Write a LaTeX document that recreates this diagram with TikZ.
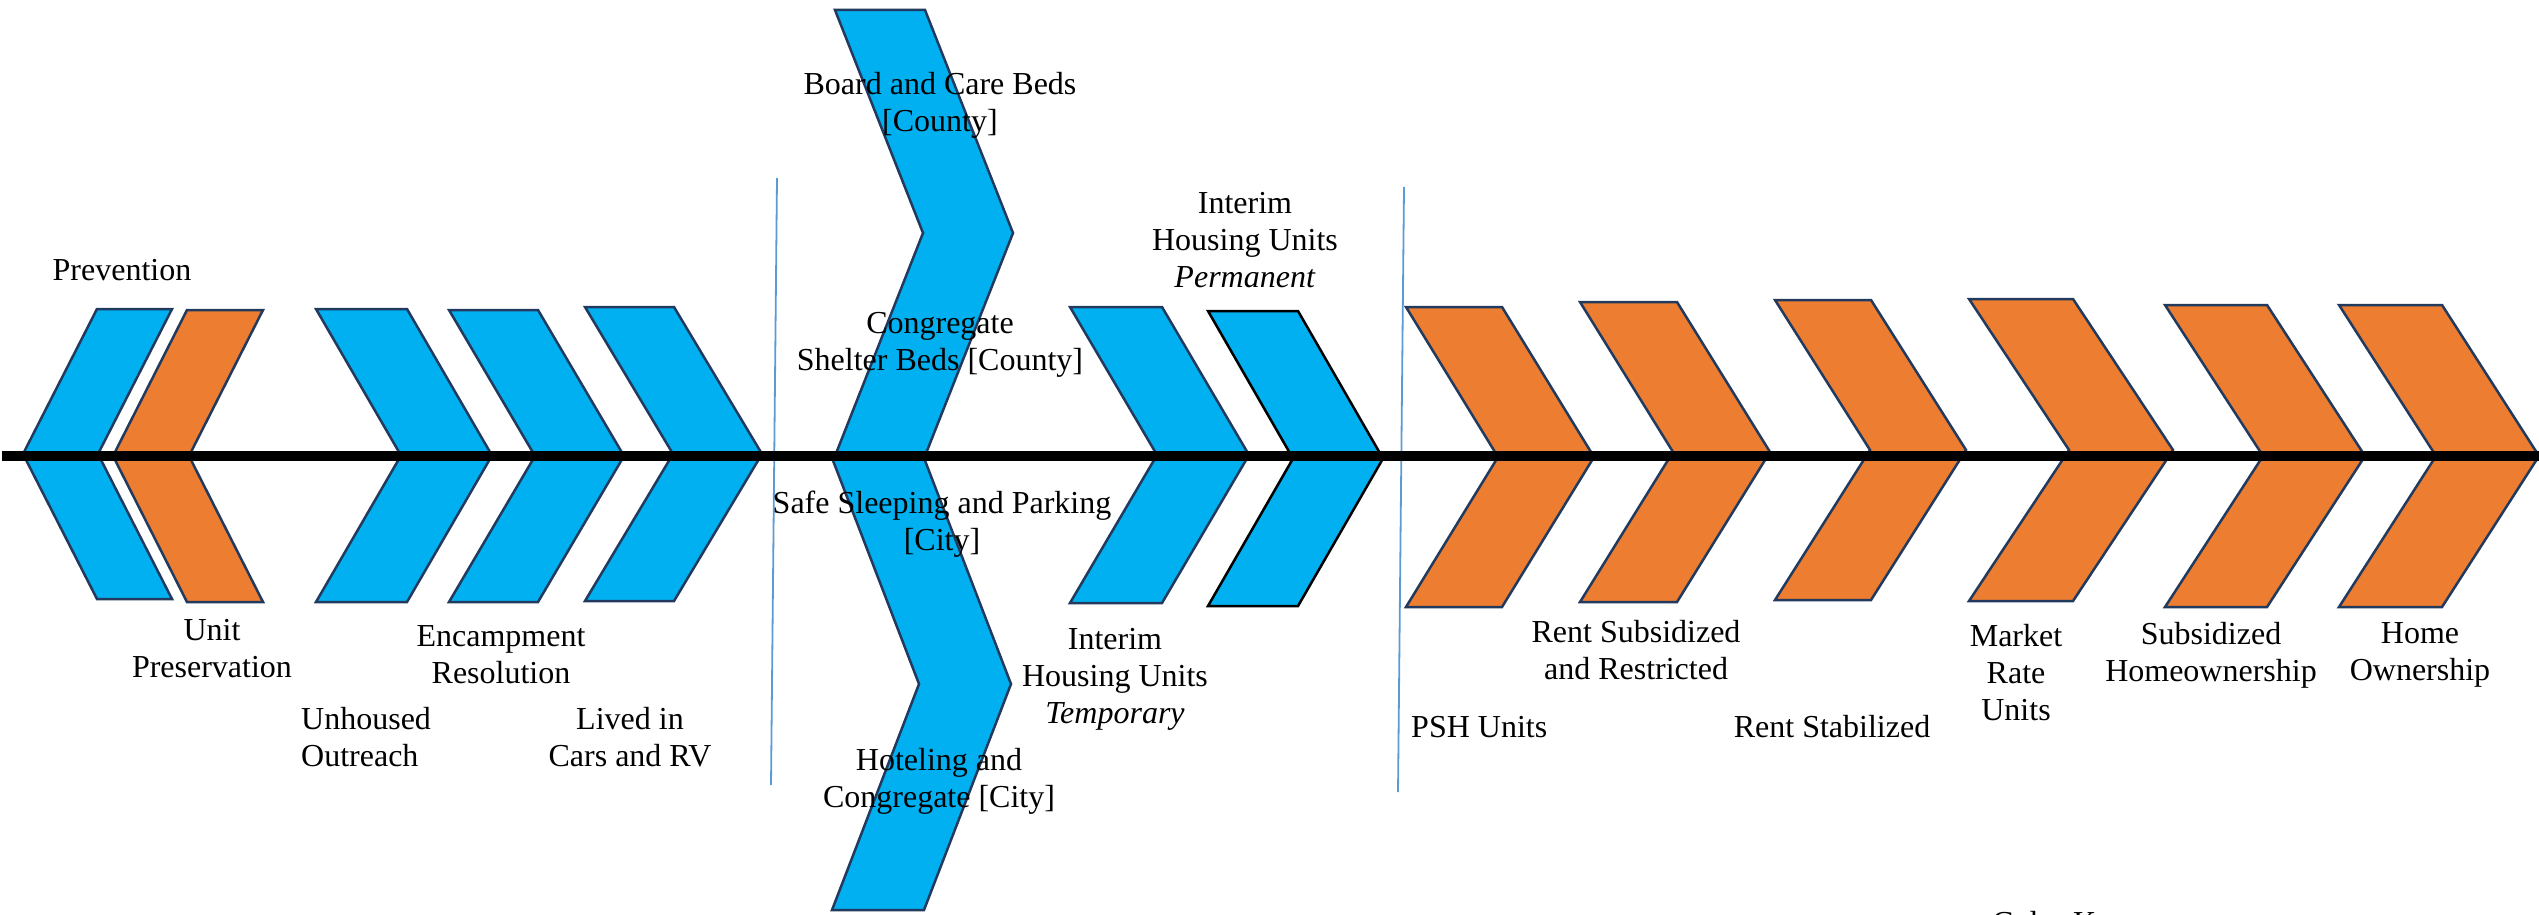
\documentclass[tikz,border=0pt]{standalone}
\usepackage{fontspec}
\setmainfont{Liberation Serif}
\definecolor{chevblue}{HTML}{00B0F0}
\definecolor{chevorange}{HTML}{ED7D31}
\definecolor{chevedge}{HTML}{223A5E}
\definecolor{dividerblue}{HTML}{5B9BD5}
% right-pointing chevron: style, left x, right x, tip x, top y, bottom y
\newcommand\rchevron[6]{\draw[#1] (#2,#5) -- (#3,#5) -- (#4,{(#5+#6)/2}) -- (#3,#6) -- (#2,#6) -- ({#2+#4-#3},{(#5+#6)/2}) -- cycle;}
% left-pointing chevron: style, left x, right x, tip x, top y, bottom y
\newcommand\lchevron[6]{\draw[#1] (#2,#5) -- (#3,#5) -- ({#3-#2+#4},{(#5+#6)/2}) -- (#3,#6) -- (#2,#6) -- (#4,{(#5+#6)/2}) -- cycle;}
\begin{document}
\begin{tikzpicture}[x=1pt,y=-1pt,
  chev/.style={line width=2.5pt, draw=chevedge, line join=miter},
  bluechev/.style={chev, fill=chevblue},
  orangechev/.style={chev, fill=chevorange},
  darkchev/.style={line width=2.5pt, draw=black, fill=chevblue, line join=miter},
  divider/.style={draw=dividerblue, line width=1.8pt},
  spine/.style={draw=black, line width=10.5pt},
  lbl/.style={font=\fontsize{32}{37}\selectfont, inner sep=0pt, align=center, text=black},
]
\useasboundingbox (0,0) rectangle (2539,915);
\clip (0,0) rectangle (2539,915);

% stage dividers
\coordinate (d1top) at (777,178);
\coordinate (d1bot) at (771,785);
\coordinate (d2top) at (1404,187);
\coordinate (d2bot) at (1398,792);
\draw[divider] (d1top) -- (d1bot);
\draw[divider] (d2top) -- (d2bot);

% prevention stage
\lchevron{bluechev}{97}{172}{23}{309}{599}
\lchevron{orangechev}{187}{263}{113}{310}{602}

% outreach stage
\rchevron{bluechev}{316}{407}{492}{309}{602}
\rchevron{bluechev}{449}{538}{624}{310}{602}
\rchevron{bluechev}{585}{674}{762}{307}{601}

% beds and interim housing
\rchevron{bluechev}{835}{925}{1013}{10}{456}
\rchevron{bluechev}{832}{924}{1011}{458}{910}
\rchevron{bluechev}{1070}{1162}{1249}{307}{603}
\rchevron{darkchev}{1208}{1298}{1383}{311}{606}

% permanent housing
\rchevron{orangechev}{1406}{1502}{1594}{307}{607}
\rchevron{orangechev}{1580}{1677}{1770}{302}{602}
\rchevron{orangechev}{1775}{1871}{1966}{300}{600}
\rchevron{orangechev}{1969}{2073}{2173}{299}{601}
\rchevron{orangechev}{2165}{2267}{2365}{305}{607}
\rchevron{orangechev}{2339}{2442}{2539}{305}{607}

% spine
\coordinate (spineL) at (2,456);
\coordinate (spineR) at (2545,456);
\draw[spine] (spineL) -- (spineR);

% labels
\node[lbl] (prevention) at (122,270) {Prevention};
\node[lbl] (unitpres) at (212,649) {Unit\\Preservation};
\node[lbl] (encamp) at (501,655) {Encampment\\Resolution};
\node[lbl, anchor=west, align=left] (outreach) at (301,737) {Unhoused\\Outreach};
\node[lbl] (lived) at (630,737) {Lived in\\Cars and RV};

\node[lbl] (boardcare) at (940,105) {Board and Care Beds\\{[County]}};
\node[lbl] (congregate) at (940,345) {Congregate\\Shelter Beds [County]};
\node[lbl] (safesleep) at (942,524) {Safe Sleeping and Parking\\{[City]}};
\node[lbl] (hoteling) at (939,781) {Hoteling and\\Congregate [City]};
\node[lbl] (interimperm) at (1245,240) {Interim\\Housing Units\\\textit{Permanent}};
\node[lbl] (interimtemp) at (1115,679) {Interim\\Housing Units\\\textit{Temporary}};

\node[lbl, anchor=west] (psh) at (1411,727) {PSH Units};
\node[lbl] (rentsub) at (1636,650) {Rent Subsidized\\and Restricted};
\node[lbl] (rentstab) at (1832,727) {Rent Stabilized};
\node[lbl] (market) at (2016,673) {Market\\Rate\\Units};
\node[lbl] (subhome) at (2211,655) {Subsidized\\Homeownership};
\node[lbl] (homeown) at (2420,655) {Home\\Ownership};

\node[lbl, anchor=base west] (colorkey) at (1992,933) {Color Key};
\end{tikzpicture}
\end{document}
